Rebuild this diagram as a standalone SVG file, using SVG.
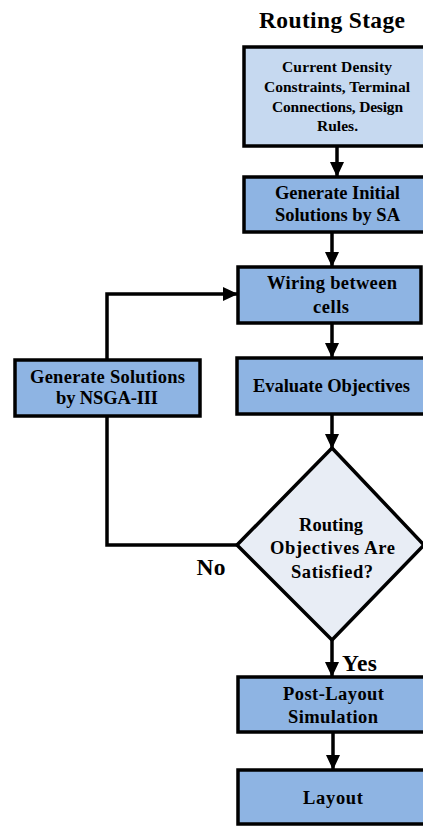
<svg xmlns="http://www.w3.org/2000/svg" width="423" height="826" viewBox="0 0 423 826">
<defs>
<style>
text{font-family:"Liberation Serif","Times New Roman",serif;font-weight:bold;fill:#000;text-anchor:middle}
.box{fill:#8EB4E3;stroke:#000;stroke-width:3.5}
.light{fill:#C6D9F0;stroke:#000;stroke-width:3.5}
.dia{fill:#E8EDF5;stroke:#000;stroke-width:3.5}
.con{fill:none;stroke:#000;stroke-width:3.5}
.t13{font-size:15.5px}
.t15{font-size:18.5px}
.t20{font-size:23.5px}
</style>
<marker id="ah" markerUnits="userSpaceOnUse" markerWidth="16" markerHeight="16" viewBox="0 0 16 16" refX="15" refY="8" orient="auto">
<path d="M0,1 L15,8 L0,15 Z" fill="#000"/>
</marker>
</defs>
<rect width="423" height="826" fill="#fff"/>
<text class="t20" x="332" y="28" textLength="146">Routing Stage</text>
<g id="connectors">
<line class="con" x1="337" y1="146" x2="337" y2="177" marker-end="url(#ah)"/>
<line class="con" x1="332" y1="232" x2="332" y2="267" marker-end="url(#ah)"/>
<line class="con" x1="332" y1="323" x2="332" y2="358" marker-end="url(#ah)"/>
<line class="con" x1="332" y1="414" x2="332" y2="449" marker-end="url(#ah)"/>
<line class="con" x1="332" y1="640" x2="332" y2="677" marker-end="url(#ah)"/>
<line class="con" x1="333" y1="732" x2="333" y2="770" marker-end="url(#ah)"/>
<polyline class="con" points="237,545 107,545 107,416"/>
<polyline class="con" points="107,360 107,294 238,294" marker-end="url(#ah)"/>
<text class="t20" x="211" y="575" textLength="29">No</text>
<text class="t20" x="359.5" y="671" textLength="35">Yes</text>
</g>
<g id="inputs">
<rect class="light" x="244" y="47" width="190" height="99"/>
<text class="t13" x="337" y="72" textLength="110">Current Density</text>
<text class="t13" x="337" y="92" textLength="146">Constraints, Terminal</text>
<text class="t13" x="337.5" y="112" textLength="131">Connections, Design</text>
<text class="t13" x="337.5" y="131" textLength="41">Rules.</text>
</g>
<g id="initial">
<rect class="box" x="244" y="177" width="190" height="55"/>
<text class="t15" x="337.5" y="199" textLength="125">Generate Initial</text>
<text class="t15" x="337.5" y="221" textLength="125">Solutions by SA</text>
</g>
<g id="wiring">
<rect class="box" x="238" y="267" width="183" height="56"/>
<text class="t15" x="332" y="289" textLength="130">Wiring between</text>
<text class="t15" x="331" y="313" textLength="36">cells</text>
</g>
<g id="evaluate">
<rect class="box" x="237" y="358" width="195" height="56"/>
<text class="t15" x="331.5" y="392" textLength="157">Evaluate Objectives</text>
</g>
<g id="nsga">
<rect class="box" x="15" y="360" width="185" height="56"/>
<text class="t15" x="107.5" y="383" textLength="155">Generate Solutions</text>
<text class="t15" x="107" y="404" textLength="102">by NSGA-III</text>
</g>
<g id="decision">
<polygon class="dia" points="332,448 424,545 332,640 237,545"/>
<text class="t15" x="331" y="531" textLength="64">Routing</text>
<text class="t15" x="332.5" y="554" textLength="125">Objectives Are</text>
<text class="t15" x="332" y="578" textLength="82">Satisfied?</text>
</g>
<g id="postlayout">
<rect class="box" x="238" y="677" width="195" height="55"/>
<text class="t15" x="333.5" y="700" textLength="101">Post-Layout</text>
<text class="t15" x="333" y="723" textLength="90">Simulation</text>
</g>
<g id="layout">
<rect class="box" x="238" y="770" width="195" height="54"/>
<text class="t15" x="333" y="804" textLength="60">Layout</text>
</g>
</svg>
